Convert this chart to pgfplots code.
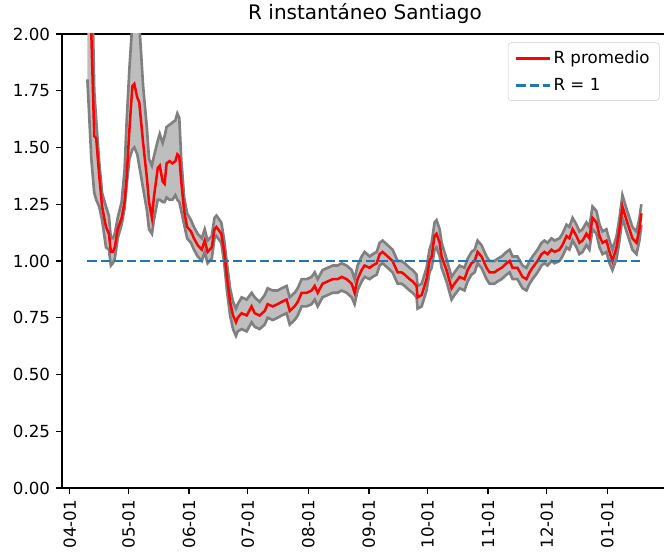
\documentclass[border=0pt]{standalone}
\usepackage{pgfplots}
\pgfplotsset{compat=1.18}
\usepackage{pgfplotstable}
\usepgfplotslibrary{fillbetween}
\usepackage{fontspec}
\setmainfont{DejaVu Sans}
\definecolor{tabblue}{HTML}{1F77B4}
\definecolor{bandfill}{HTML}{BEBEBE}
\definecolor{bandedge}{HTML}{808080}

\pgfplotstableread{
d m lo up
9 2.20 1.80 2.80
11 2.00 1.45 2.40
12.5 1.55 1.30 1.75
13.5 1.54 1.27 1.62
15 1.38 1.24 1.44
16.5 1.24 1.18 1.30
18.5 1.15 1.06 1.24
20 1.12 1.05 1.20
21 1.04 0.98 1.10
22 1.04 0.99 1.10
23 1.06 1.01 1.12
24.5 1.14 1.10 1.19
26.5 1.19 1.16 1.26
28 1.26 1.23 1.40
29 1.36 1.33 1.60
30.5 1.58 1.45 1.85
32 1.77 1.49 2.05
33 1.78 1.50 2.15
34.5 1.72 1.47 2.15
35.5 1.70 1.42 2.05
37.5 1.52 1.32 1.77
39.5 1.36 1.22 1.58
40.5 1.26 1.14 1.45
42 1.19 1.12 1.42
43 1.28 1.18 1.46
45 1.41 1.27 1.53
46 1.42 1.27 1.56
47.5 1.35 1.26 1.52
48.5 1.34 1.26 1.55
49.5 1.43 1.28 1.59
51 1.44 1.27 1.60
52.5 1.43 1.27 1.61
54 1.44 1.29 1.62
55 1.47 1.27 1.65
56 1.46 1.26 1.63
57 1.35 1.22 1.45
58.5 1.22 1.16 1.28
60 1.15 1.10 1.21
62 1.13 1.08 1.18
63.5 1.10 1.05 1.15
65.4 1.07 1.02 1.12
67.5 1.05 1.00 1.10
69 1.09 1.04 1.14
70.5 1.04 0.99 1.09
72.6 1.06 1.01 1.11
74 1.14 1.10 1.19
75 1.15 1.11 1.20
77.5 1.12 1.08 1.17
79 1.04 0.99 1.09
80.5 0.92 0.86 0.98
82 0.82 0.76 0.88
83.5 0.76 0.70 0.82
85 0.73 0.67 0.79
85.9 0.75 0.69 0.81
87.9 0.77 0.70 0.84
90.5 0.76 0.69 0.83
93 0.80 0.73 0.86
94.6 0.77 0.71 0.84
97.1 0.76 0.70 0.82
99.7 0.78 0.72 0.85
101.2 0.81 0.75 0.88
103.8 0.80 0.74 0.87
106.3 0.81 0.75 0.87
108.4 0.82 0.76 0.88
110.9 0.83 0.77 0.89
112.5 0.78 0.72 0.84
115 0.80 0.74 0.86
116.6 0.82 0.76 0.88
118.6 0.86 0.80 0.92
121.2 0.86 0.80 0.92
123.7 0.87 0.81 0.93
125.3 0.89 0.83 0.95
126.8 0.86 0.80 0.92
129.3 0.90 0.84 0.96
131.9 0.91 0.85 0.97
134.5 0.92 0.86 0.98
137 0.92 0.86 0.98
139.1 0.93 0.87 0.99
141.6 0.92 0.86 0.98
144.2 0.90 0.84 0.96
145.7 0.86 0.81 0.92
147.2 0.92 0.87 0.98
149.3 0.96 0.91 1.02
150.8 0.98 0.93 1.04
153.4 0.97 0.92 1.02
154.9 0.98 0.93 1.03
157 0.99 0.94 1.04
158.5 1.03 0.98 1.08
160 1.04 0.99 1.09
162.6 1.02 0.97 1.07
165.1 1.00 0.95 1.05
167.7 0.95 0.90 1.00
169.7 0.95 0.90 1.00
171.3 0.94 0.89 0.99
173.8 0.92 0.87 0.97
175.4 0.91 0.86 0.96
177.4 0.89 0.84 0.94
177.9 0.84 0.79 0.89
180 0.85 0.80 0.90
182.5 0.92 0.87 0.97
184 1.00 0.95 1.05
185.1 1.02 0.97 1.08
186.6 1.11 1.05 1.17
187.6 1.12 1.06 1.18
189.2 1.08 1.02 1.14
190.2 1.02 0.97 1.08
192.7 0.96 0.91 1.01
195.3 0.88 0.83 0.93
196.8 0.90 0.85 0.95
199.4 0.93 0.88 0.98
201.9 0.92 0.87 0.97
203.5 0.96 0.91 1.01
205.5 0.99 0.94 1.04
207.1 1.00 0.95 1.05
208.6 1.04 0.99 1.09
210.6 1.02 0.97 1.07
213.2 0.97 0.92 1.02
214.7 0.95 0.90 1.00
217.3 0.95 0.90 1.00
218.8 0.96 0.91 1.01
220.9 0.97 0.92 1.02
223.4 0.99 0.94 1.04
225 1.00 0.95 1.05
226.5 0.97 0.92 1.02
229 0.97 0.92 1.02
231.6 0.93 0.88 0.98
233.6 0.92 0.87 0.97
235.2 0.95 0.90 1.00
236.7 0.97 0.92 1.02
239.3 1.00 0.95 1.05
241.3 1.03 0.98 1.08
242.8 1.04 0.99 1.09
244.4 1.03 0.98 1.08
246.4 1.05 1.00 1.10
248 1.04 0.99 1.09
250.5 1.05 1.00 1.10
252 1.07 1.02 1.12
254.1 1.11 1.06 1.16
255.6 1.10 1.05 1.15
257.2 1.14 1.09 1.19
259.2 1.11 1.06 1.16
260.7 1.08 1.03 1.13
262.3 1.09 1.04 1.14
264.3 1.12 1.07 1.17
265.8 1.10 1.05 1.15
267.4 1.19 1.14 1.24
269.4 1.17 1.12 1.22
271 1.11 1.06 1.16
272.5 1.08 1.03 1.13
274.5 1.09 1.04 1.14
276.1 1.04 0.99 1.09
277.6 1.00 0.96 1.05
279.7 1.06 1.01 1.11
281.2 1.14 1.09 1.19
282.7 1.24 1.19 1.29
284.8 1.18 1.13 1.23
286.3 1.14 1.09 1.19
287.8 1.10 1.05 1.15
289.9 1.08 1.03 1.13
291.4 1.14 1.09 1.19
292.4 1.21 1.16 1.25
}\datatab

\begin{document}
\begin{tikzpicture}
\begin{axis}[
  at={(0,0)}, anchor=south west,
  scale only axis,
  width=436.3bp, height=326.88bp,
  xmin=-4, xmax=306, ymin=0, ymax=2,
  axis line style={line width=0.96bp},
  tick pos=left,
  tick align=outside,
  major tick length=4.2bp,
  every tick/.style={black, line width=0.96bp},
  xtick={0,30,61,91,122,153,183,214,244,275},
  xticklabels={04-01,05-01,06-01,07-01,08-01,09-01,10-01,11-01,12-01,01-01},
  ytick={0,0.25,0.5,0.75,1,1.25,1.5,1.75,2},
  yticklabel={\pgfmathprintnumber[fixed,fixed zerofill,precision=2]{\tick}},
  /pgf/number format/assume math mode=true,
  tick label style={font=\fontsize{12bp}{14bp}\selectfont},
  xticklabel style={yshift=-4.2bp, rotate=90, anchor=east, inner sep=0pt},
  yticklabel style={anchor=east, inner sep=0pt, xshift=-4.2bp},
  title={R instantáneo Santiago},
  title style={font=\fontsize{14.4bp}{17bp}\selectfont, inner sep=0pt, yshift=1.2bp},
  legend style={at={(1,1)}, anchor=north east, xshift=-6bp, yshift=-6bp,
    draw=black!20, rounded corners=2.5bp, fill=white, fill opacity=0.8, text opacity=1,
    font=\fontsize{12bp}{14bp}\selectfont, inner xsep=5bp, inner ysep=4bp, row sep=5bp},
  legend cell align=left,
  legend image code/.code={\draw[#1] (0bp,0bp) -- (24bp,0bp);},
]
\addplot[name path=up, draw=none, forget plot] table[x=d, y=up] \datatab;
\addplot[name path=lo, draw=none, forget plot] table[x=d, y=lo] \datatab;
\addplot[bandfill, forget plot] fill between[of=up and lo];
\addplot[draw=bandedge, line width=1.9bp, forget plot] table[x=d, y=up] \datatab;
\addplot[draw=bandedge, line width=1.9bp, forget plot] table[x=d, y=lo] \datatab;
\addplot[red, line width=1.8bp] table[x=d, y=m] \datatab;
\addlegendentry{R promedio}
\addplot[tabblue, line width=1.8bp, dash pattern=on 6.66bp off 2.88bp] coordinates {(9,1) (292.4,1)};
\addlegendentry{R = 1}
\end{axis}
\pgfresetboundingbox
\useasboundingbox (-44.64bp,-46.08bp) rectangle (433.44bp,351.36bp);
\end{tikzpicture}
\end{document}
